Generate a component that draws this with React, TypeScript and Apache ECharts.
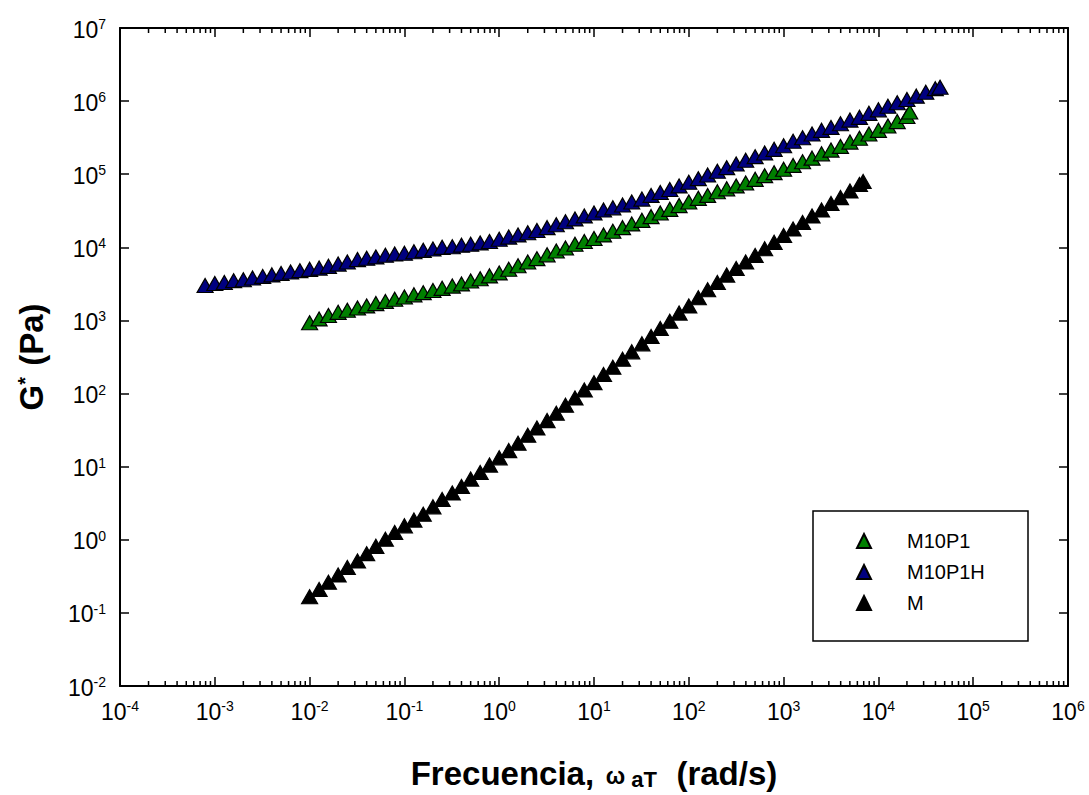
import React, { useEffect, useRef } from "react";
import * as echarts from "echarts";

// Frequency (rad/s), G* (Pa)
const M10P1: [number, number][] = [
  [0.01, 930], [0.0126, 1050], [0.0158, 1170], [0.02, 1290], [0.025, 1380],
  [0.032, 1480], [0.04, 1580], [0.05, 1700], [0.063, 1820], [0.079, 1950],
  [0.1, 2090], [0.126, 2240], [0.158, 2400], [0.2, 2570], [0.25, 2750],
  [0.32, 2950], [0.4, 3160], [0.5, 3470], [0.63, 3720], [0.79, 4070],
  [1, 4470], [1.26, 5010], [1.58, 5600], [2, 6300], [2.5, 7000],
  [3.2, 7900], [4, 8900], [5, 9800], [6.3, 11000], [7.9, 12000],
  [10, 13200], [12.6, 14800], [15.8, 16600], [20, 18600], [25, 20900],
  [32, 23400], [40, 26300], [50, 29500], [63, 33100], [79, 37200],
  [100, 41700], [126, 46800], [158, 51300], [200, 57500], [251, 63100],
  [316, 69200], [398, 75900], [501, 85100], [631, 95500], [794, 105000],
  [1000, 117000], [1259, 132000], [1585, 148000], [1995, 166000], [2512, 190000],
  [3162, 214000], [3981, 240000], [5012, 275000], [6310, 310000], [7943, 355000],
  [10000, 398000], [12600, 457000], [15800, 525000], [20000, 617000], [21400, 710000],
];

const M10P1H: [number, number][] = [
  [0.00079, 3000], [0.001, 3200], [0.00126, 3300], [0.00158, 3500], [0.002, 3600],
  [0.0025, 3800], [0.0032, 4000], [0.004, 4200], [0.005, 4400], [0.0063, 4600],
  [0.0079, 4800], [0.01, 5000], [0.0126, 5200], [0.0158, 5500], [0.02, 5900],
  [0.025, 6300], [0.032, 6800], [0.04, 7100], [0.05, 7400], [0.063, 7800],
  [0.079, 8100], [0.1, 8300], [0.126, 8700], [0.158, 9100], [0.2, 9500],
  [0.25, 10000], [0.32, 10200], [0.4, 10700], [0.5, 11000], [0.63, 11500],
  [0.79, 12000], [1, 12900], [1.26, 13800], [1.58, 14800], [2, 15800],
  [2.5, 17000], [3.2, 18600], [4, 20400], [5, 22400], [6.3, 24500],
  [7.9, 26900], [10, 29500], [12.6, 32400], [15.8, 34700], [20, 38000],
  [25, 41700], [32, 45700], [40, 51300], [50, 56200], [63, 61700],
  [79, 69200], [100, 77600], [126, 87000], [158, 97700], [200, 110000],
  [251, 123000], [316, 138000], [398, 155000], [501, 174000], [631, 195000],
  [794, 219000], [1000, 245000], [1259, 282000], [1585, 316000], [1995, 355000],
  [2512, 398000], [3162, 437000], [3981, 490000], [5012, 550000], [6310, 600000],
  [7943, 680000], [10000, 760000], [12600, 850000], [15800, 950000], [20000, 1050000],
  [25100, 1170000], [31600, 1320000], [39800, 1480000], [44700, 1550000],
];

const M: [number, number][] = [
  [0.01, 0.166], [0.0126, 0.209], [0.0158, 0.263], [0.02, 0.331], [0.025, 0.417],
  [0.032, 0.513], [0.04, 0.646], [0.05, 0.813], [0.063, 1.02], [0.079, 1.26],
  [0.1, 1.55], [0.126, 1.86], [0.158, 2.24], [0.2, 2.82], [0.25, 3.55],
  [0.32, 4.37], [0.4, 5.37], [0.5, 6.76], [0.63, 8.32], [0.79, 10.5],
  [1, 13.2], [1.26, 16.6], [1.58, 20.9], [2, 26.9], [2.5, 33.9],
  [3.2, 42.7], [4, 53.7], [5, 69.2], [6.3, 87.1], [7.9, 112],
  [10, 141], [12.6, 182], [15.8, 229], [20, 295], [25, 372],
  [32, 479], [40, 603], [50, 776], [63, 977], [79, 1260],
  [100, 1580], [126, 2040], [158, 2630], [200, 3310], [251, 4170],
  [316, 5130], [398, 6310], [501, 7760], [631, 9550], [794, 11700],
  [1000, 14500], [1259, 17800], [1585, 21900], [1995, 26900], [2512, 32400],
  [3162, 39800], [3981, 47900], [5012, 58900], [6310, 72400], [6900, 79400],
];

const SERIES_NAMES = ["M10P1", "M10P1H", "M"];
const SERIES_COLORS = ["#008000", "#000080", "#000000"];
const X_MIN = 1e-4;
const X_MAX = 1e6;
const Y_MIN = 1e-2;
const Y_MAX = 1e7;
const MINOR_MULTIPLIERS = [2, 3, 4, 5, 6, 7, 8, 9];
const X_DECADES = [1e-4, 1e-3, 1e-2, 1e-1, 1, 10, 100, 1e3, 1e4, 1e5];

const FONT = "'Liberation Sans', Arial, sans-serif";

const powLabel = (v: number) => {
  const e = Math.round(Math.log10(v));
  return `{b|10}{e|${e}}`;
};

const labelRich = {
  b: { fontSize: 23, fontFamily: FONT, color: "#000", verticalAlign: "bottom", lineHeight: 26 },
  e: { fontSize: 14, fontFamily: FONT, color: "#000", verticalAlign: "bottom", lineHeight: 26, padding: [0, 0, 10, 0] },
};

export default function App() {
  const ref = useRef<HTMLDivElement>(null);
  useEffect(() => {
    const chart = echarts.init(ref.current!, null, { renderer: "svg" });
    const minorData: number[][] = [];
    X_DECADES.forEach((d) => MINOR_MULTIPLIERS.forEach((m) => minorData.push([d * m, Y_MIN])));

    const axisLine = { show: true, lineStyle: { color: "#000", width: 2 } };
    const datas = [M10P1, M10P1H, M];

    const option: any = {
      animation: false,
      backgroundColor: "#fff",
      grid: { left: 120, top: 28, right: 21, bottom: 102, containLabel: false },
      xAxis: [
        {
          type: "log",
          logBase: 10,
          min: X_MIN,
          max: X_MAX,
          splitNumber: 10,
          position: "bottom",
          axisLine,
          axisTick: { show: true, inside: true, length: 9, lineStyle: { color: "#000", width: 1.5 } },
          splitLine: { show: false },
          axisLabel: {
            show: true,
            margin: 11,
            formatter: powLabel,
            rich: labelRich,
            showMinLabel: true,
            showMaxLabel: true,
          },
          name: "{a|Frecuencia,}{sp|   }{w|ω}{s| aT}{sp|     }{a|(rad/s)}",
          nameLocation: "middle",
          nameGap: 66,
          nameTextStyle: {
            rich: {
              a: { fontSize: 33, fontWeight: "bold", fontFamily: FONT, color: "#000", verticalAlign: "bottom", lineHeight: 38 },
              sp: { fontSize: 14, fontFamily: FONT, verticalAlign: "bottom", lineHeight: 38 },
              w: { fontSize: 23, fontWeight: "bold", fontFamily: FONT, color: "#000", verticalAlign: "bottom", lineHeight: 38, padding: [0, 0, 3, 0] },
              s: { fontSize: 22, fontWeight: "bold", fontFamily: FONT, color: "#000", verticalAlign: "bottom", lineHeight: 38 },
            },
          },
        },
        {
          type: "log",
          logBase: 10,
          min: X_MIN,
          max: X_MAX,
          splitNumber: 10,
          position: "top",
          axisLine,
          axisTick: { show: true, inside: true, length: 9, lineStyle: { color: "#000", width: 1.5 } },
          splitLine: { show: false },
          axisLabel: { show: false },
        },
      ],
      yAxis: [
        {
          type: "log",
          logBase: 10,
          min: Y_MIN,
          max: Y_MAX,
          splitNumber: 9,
          position: "left",
          axisLine,
          axisTick: { show: true, inside: true, length: 9, lineStyle: { color: "#000", width: 1.5 } },
          splitLine: { show: false },
          axisLabel: {
            show: true,
            margin: 14,
            formatter: powLabel,
            rich: labelRich,
            showMinLabel: true,
            showMaxLabel: true,
          },
          name: "{a|G}{s|*}{a| (Pa)}",
          nameLocation: "middle",
          nameGap: 72,
          nameRotate: 90,
          nameTextStyle: {
            rich: {
              a: { fontSize: 33, fontWeight: "bold", fontFamily: FONT, color: "#000", verticalAlign: "bottom", lineHeight: 38 },
              s: { fontSize: 20, fontWeight: "bold", fontFamily: FONT, color: "#000", verticalAlign: "bottom", lineHeight: 38, padding: [0, 2, 13, 0] },
            },
          },
        },
        {
          type: "log",
          logBase: 10,
          min: Y_MIN,
          max: Y_MAX,
          splitNumber: 9,
          position: "right",
          axisLine,
          axisTick: { show: true, inside: true, length: 9, lineStyle: { color: "#000", width: 1.5 } },
          splitLine: { show: false },
          axisLabel: { show: false },
        },
      ],
      legend: {
        data: SERIES_NAMES.map((n) => ({ name: n, icon: "triangle" })),
        orient: "vertical",
        left: 856,
        top: 531,
        itemWidth: 14,
        itemHeight: 14,
        itemGap: 11,
        padding: 0,
        textStyle: { fontSize: 20, fontFamily: FONT, color: "#000", padding: [0, 0, 0, 31], lineHeight: 20 },
      },
      graphic: [
        {
          type: "rect",
          shape: { x: 813, y: 511, width: 215, height: 130 },
          style: { fill: "none", stroke: "#000", lineWidth: 1.5 },
          z: 100,
        },
      ],
      series: [
        ...datas.map((d, i) => ({
          name: SERIES_NAMES[i],
          type: "scatter",
          data: d,
          symbol: "triangle",
          symbolSize: [16, 14],
          itemStyle: {
            color: SERIES_COLORS[i],
            borderColor: "#000",
            borderWidth: 1.2,
            opacity: 1,
          },
          emphasis: { disabled: true },
          z: 3 + i,
        })),
        {
          name: "minorTicks",
          type: "custom",
          silent: true,
          xAxisIndex: 0,
          yAxisIndex: 0,
          data: minorData,
          renderItem: (params: any, api: any) => {
            const v = api.value(0);
            const b = api.coord([v, Y_MIN]);
            const t = api.coord([v, Y_MAX]);
            return {
              type: "group",
              children: [
                { type: "line", shape: { x1: b[0], y1: b[1], x2: b[0], y2: b[1] - 5 }, style: { stroke: "#000", lineWidth: 1.5 } },
                { type: "line", shape: { x1: t[0], y1: t[1], x2: t[0], y2: t[1] + 5 }, style: { stroke: "#000", lineWidth: 1.5 } },
              ],
            };
          },
          z: 2,
        },
      ],
    };
    chart.setOption(option);
    return () => chart.dispose();
  }, []);
  return (
    <div
      ref={ref}
      style={{ position: "fixed", left: 0, top: 0, width: 1089, height: 795, background: "#fff" }}
    />
  );
}
